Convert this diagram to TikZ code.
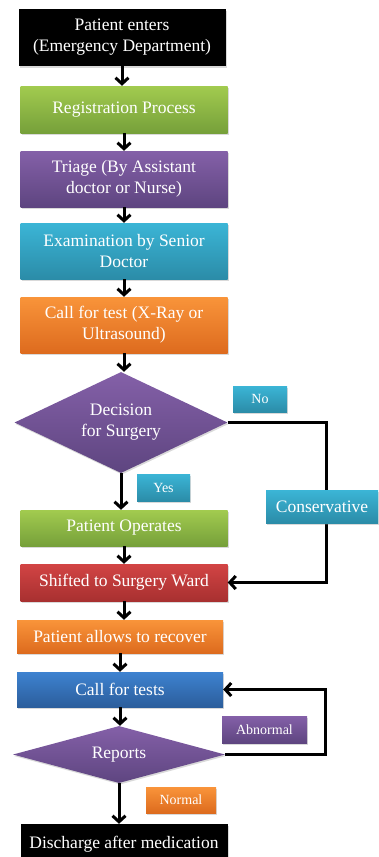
\documentclass[tikz,border=0pt]{standalone}
\usepackage{fontspec}
\setmainfont{Liberation Serif}
\usepackage{tikz}
\usetikzlibrary{arrows.meta,shapes.geometric,shadows,calc}

\definecolor{grnT}{HTML}{A2CB4F}
\definecolor{grnB}{HTML}{76A03A}
\definecolor{purT}{HTML}{8460A8}
\definecolor{purB}{HTML}{5E4580}
\definecolor{tealT}{HTML}{3BB5D6}
\definecolor{tealB}{HTML}{2B8CA8}
\definecolor{orgT}{HTML}{F9943A}
\definecolor{orgB}{HTML}{DD6B1E}
\definecolor{redT}{HTML}{D24444}
\definecolor{redB}{HTML}{A83030}
\definecolor{bluT}{HTML}{3D82D0}
\definecolor{bluB}{HTML}{2C5E9C}

\begin{document}
\begin{tikzpicture}[x=1pt,y=-1pt,
  box/.style={rectangle, minimum width=207pt, inner sep=2pt, text=white, align=center,
    font=\fontsize{17.5}{21}\selectfont,
    drop shadow={opacity=0.3,shadow xshift=1pt,shadow yshift=-1.5pt}},
  tag/.style={box, font=\fontsize{14}{17}\selectfont},
  decision/.style={diamond, inner sep=0pt, aspect=2.1, text=white, align=center,
    font=\fontsize{17.5}{21}\selectfont,
    drop shadow={opacity=0.3,shadow xshift=1pt,shadow yshift=-1.5pt}},
  blackfill/.style={fill=black},
  greenfill/.style={top color=grnT, bottom color=grnB},
  purplefill/.style={top color=purT, bottom color=purB},
  tealfill/.style={top color=tealT, bottom color=tealB},
  orangefill/.style={top color=orgT, bottom color=orgB},
  redfill/.style={top color=redT, bottom color=redB},
  bluefill/.style={top color=bluT, bottom color=bluB},
  flow/.style={line width=3pt, -{Straight Barb[length=6pt,width=13pt]}}]
\useasboundingbox (0,0) rectangle (378,857);

% main column
\node[box, blackfill, minimum height=57pt] (enter) at (122,37.5) {Patient enters\\(Emergency Department)};
\node[box, greenfill, minimum height=47pt] (reg) at (124,109.5) {Registration Process};
\node[box, purplefill, minimum height=56pt] (triage) at (124,179) {Triage (By Assistant\\doctor or Nurse)};
\node[box, tealfill, minimum height=56pt] (exam) at (124,251) {Examination by Senior\\Doctor};
\node[box, orangefill, minimum height=56pt] (xray) at (124,325) {Call for test (X-Ray or\\Ultrasound)};
\node[decision, purplefill, minimum width=213pt, minimum height=101pt] (surg) at (121,422.5) {Decision\\for Surgery};
\node[box, greenfill, minimum height=36pt] (oper) at (124,528) {Patient Operates};
\node[box, redfill, minimum height=37pt] (ward) at (124,582.5) {Shifted to Surgery Ward};
\node[box, orangefill, minimum width=206pt, minimum height=33pt] (recover) at (120,636.5) {Patient allows to recover};
\node[box, bluefill, minimum width=206pt, minimum height=35pt] (tests) at (120,689.5) {Call for tests};
\node[decision, purplefill, minimum width=212pt, minimum height=57pt] (reports) at (119,754.5) {Reports};
\node[box, blackfill, minimum height=40pt] (discharge) at (124,844) {Discharge after medication};

% arrows down the column
\foreach \a/\b in {enter/reg, reg/triage, triage/exam, exam/xray, xray/surg, surg/oper,
  oper/ward, ward/recover, recover/tests, tests/reports, reports/discharge}
  \draw[flow] (\a.south) -- (\b.north -| \a.south);

% side paths
\coordinate (noside) at (326,0);
\coordinate (loopside) at (325,0);
\draw[flow] (surg.east) -| (noside |- ward.east) -- (ward.east);
\draw[flow] (reports.east) -| (loopside |- tests.east) -- (tests.east);

% labels
\node[tag, tealfill, minimum width=54pt, minimum height=26pt] (no) at (260,399) {No};
\node[tag, tealfill, minimum width=53pt, minimum height=27pt] (yes) at (163.5,487.5) {Yes};
\node[box, tealfill, minimum width=112pt, minimum height=33pt] (cons) at (322,506.5) {Conservative};
\node[tag, purplefill, minimum width=85pt, minimum height=27pt] (abn) at (264.5,729.5) {Abnormal};
\node[tag, orangefill, minimum width=70pt, minimum height=26pt] (norm) at (181,800) {Normal};
\end{tikzpicture}
\end{document}
